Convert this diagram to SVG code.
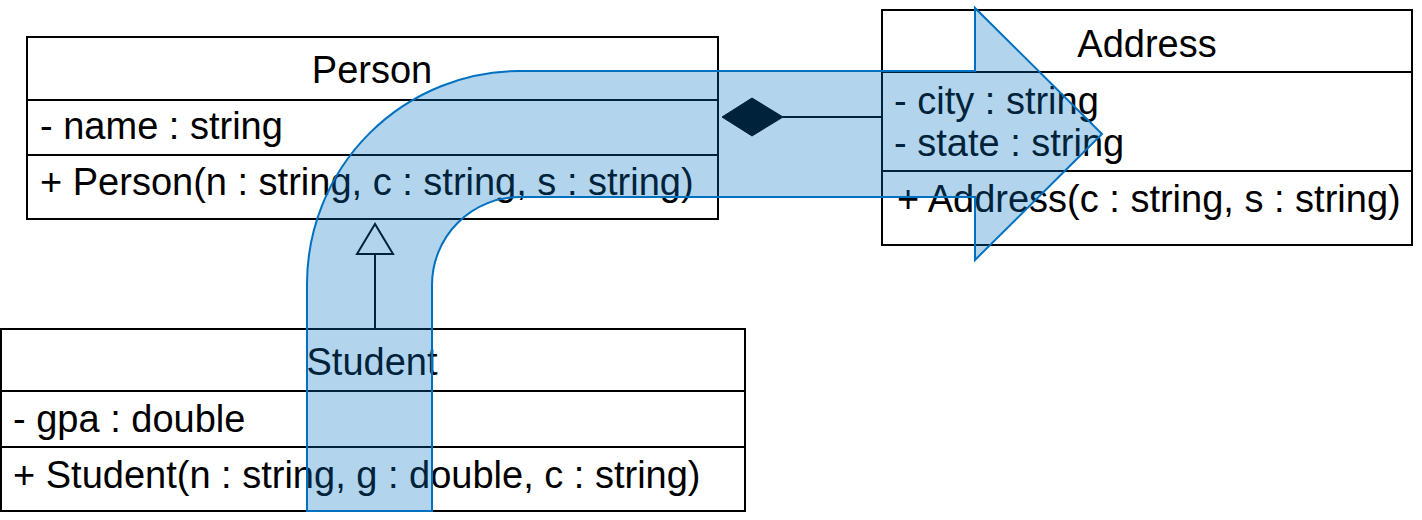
<svg xmlns="http://www.w3.org/2000/svg" width="1422" height="520" viewBox="0 0 1422 520">
<style>
.box{fill:#fff;stroke:#000;stroke-width:2}
.ln{stroke:#000;stroke-width:2;fill:none}
.t{font-family:"Liberation Sans",Arial,sans-serif;font-size:38px;fill:#000}
.c{text-anchor:middle}
</style>
<rect width="1422" height="520" fill="#fff"/>
<g id="person">
<rect class="box" x="27" y="37" width="691" height="182"/>
<line class="ln" x1="27" y1="100" x2="718" y2="100"/>
<line class="ln" x1="27" y1="155" x2="718" y2="155"/>
<text class="t c" x="372" y="83">Person</text>
<text class="t" x="40" y="139">- name : string</text>
<text class="t" x="40" y="195">+ Person(n : string, c : string, s : string)</text>
</g>
<g id="address">
<rect class="box" x="882" y="10" width="530" height="235"/>
<line class="ln" x1="882" y1="72" x2="1412" y2="72"/>
<line class="ln" x1="882" y1="171" x2="1412" y2="171"/>
<text class="t c" x="1147" y="57">Address</text>
<text class="t" x="894" y="114">- city : string</text>
<text class="t" x="894" y="156">- state : string</text>
<text class="t" x="897" y="212">+ Address(c : string, s : string)</text>
</g>
<g id="student">
<rect class="box" x="1" y="329" width="744" height="182"/>
<line class="ln" x1="1" y1="391" x2="745" y2="391"/>
<line class="ln" x1="1" y1="447" x2="745" y2="447"/>
<text class="t c" x="372" y="375">Student</text>
<text class="t" x="13" y="432">- gpa : double</text>
<text class="t" x="13" y="488">+ Student(n : string, g : double, c : string)</text>
</g>
<g id="connectors">
<line class="ln" x1="783" y1="117" x2="882" y2="117"/>
<polygon points="722,117 752,98 783,117 752,136" fill="#000" stroke="#000" stroke-width="1"/>
<line class="ln" x1="375" y1="254" x2="375" y2="329"/>
<polygon points="375,224 357,254 393,254" fill="#fff" stroke="#000" stroke-width="2"/>
</g>
<g id="big-arrow">
<path d="M307,511 L307,284 A213,213 0 0 1 520,71 L975,71 L975,8 L1102,134 L975,260 L975,197 L520,197 A88,88 0 0 0 432,285 L432,511 Z" fill="#0070c0" fill-opacity="0.3" stroke="#0070c0" stroke-width="2"/>
</g>
</svg>
